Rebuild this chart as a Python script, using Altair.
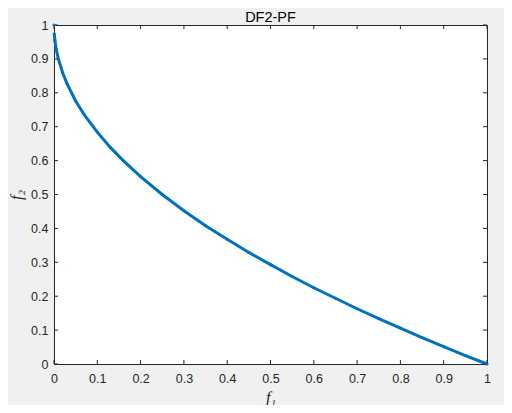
import altair as alt
import pandas as pd

# values
f1 = [0, 0.0007, 0.002, 0.005, 0.01, 0.02, 0.03, 0.05, 0.07, 0.1, 0.13, 0.16, 0.2,
      0.25, 0.3, 0.35, 0.4, 0.45, 0.5, 0.55, 0.6, 0.65, 0.7, 0.75, 0.8, 0.85, 0.9, 0.95, 1.0]
f2 = [1, 0.974, 0.955, 0.929, 0.9, 0.859, 0.827, 0.776, 0.735, 0.684, 0.639, 0.6, 0.553,
      0.5, 0.452, 0.408, 0.368, 0.329, 0.293, 0.258, 0.225, 0.194, 0.163, 0.134, 0.106,
      0.078, 0.051, 0.025, 0]
ticks = [0, 0.1, 0.2, 0.3, 0.4, 0.5, 0.6, 0.7, 0.8, 0.9, 1]

W, H = 433, 339
COL = "#0072BD"
AX = "#262626"

df = pd.DataFrame({"f1": f1, "f2": f2})
df_line = df.iloc[1:]
tdf = pd.DataFrame({"t": ticks})

xs = alt.Scale(domain=[0, 1], nice=False, zero=False)
ys = alt.Scale(domain=[0, 1], nice=False, zero=False)

xax = alt.Axis(values=ticks, format="~g", tickSize=0, labelPadding=8, domain=False,
               grid=False, labelOverlap=False, labelFlush=False,
               labelFont="Liberation Sans", labelFontSize=12.5, labelColor=AX,
               title="f₁", titleFont="Liberation Serif", titleFontStyle="italic",
               titleFontWeight="normal", titleFontSize=16, titleColor=AX, titlePadding=5)
yax = alt.Axis(values=ticks, format="~g", tickSize=0, labelPadding=6, domain=False,
               grid=False, labelOverlap=False, labelFlush=False,
               labelFont="Liberation Sans", labelFontSize=12.5, labelColor=AX,
               title="f₂", titleFont="Liberation Serif", titleFontStyle="italic",
               titleFontWeight="normal", titleFontSize=16, titleColor=AX, titlePadding=6)

line = alt.Chart(df_line).mark_line(color=COL, strokeWidth=3).encode(
    x=alt.X("f1:Q", scale=xs, axis=xax),
    y=alt.Y("f2:Q", scale=ys, axis=yax),
)
pts = alt.Chart(df).mark_circle(color=COL, size=10, opacity=1).encode(
    x=alt.X("f1:Q", scale=xs, axis=xax), y=alt.Y("f2:Q", scale=ys, axis=yax)
)

tb = alt.Chart(tdf).mark_rule(color=AX, strokeWidth=1).encode(
    x=alt.X("t:Q", scale=xs, axis=xax), y=alt.value(H), y2=alt.value(H - 4))
tt = alt.Chart(tdf).mark_rule(color=AX, strokeWidth=1).encode(
    x=alt.X("t:Q", scale=xs, axis=xax), y=alt.value(0), y2=alt.value(4))
tl = alt.Chart(tdf).mark_rule(color=AX, strokeWidth=1).encode(
    y=alt.Y("t:Q", scale=ys, axis=yax), x=alt.value(0), x2=alt.value(4))
tr = alt.Chart(tdf).mark_rule(color=AX, strokeWidth=1).encode(
    y=alt.Y("t:Q", scale=ys, axis=yax), x=alt.value(W), x2=alt.value(W - 4))

chart = alt.layer(line, tb, tt, tl, tr, pts).properties(
    width=W, height=H,
    autosize=alt.AutoSizeParams(type="none"),
    padding={"left": 46, "top": 17, "right": 17, "bottom": 41},
    title=alt.TitleParams("DF2-PF", font="Liberation Sans", fontSize=14.5,
                          fontWeight="normal", color="#000000", offset=-6),
).configure(background="#f0f0f0").configure_view(
    fill="white", stroke=AX, strokeWidth=1
)

chart.save("out.html", embed_options={"renderer": "svg", "actions": False})
